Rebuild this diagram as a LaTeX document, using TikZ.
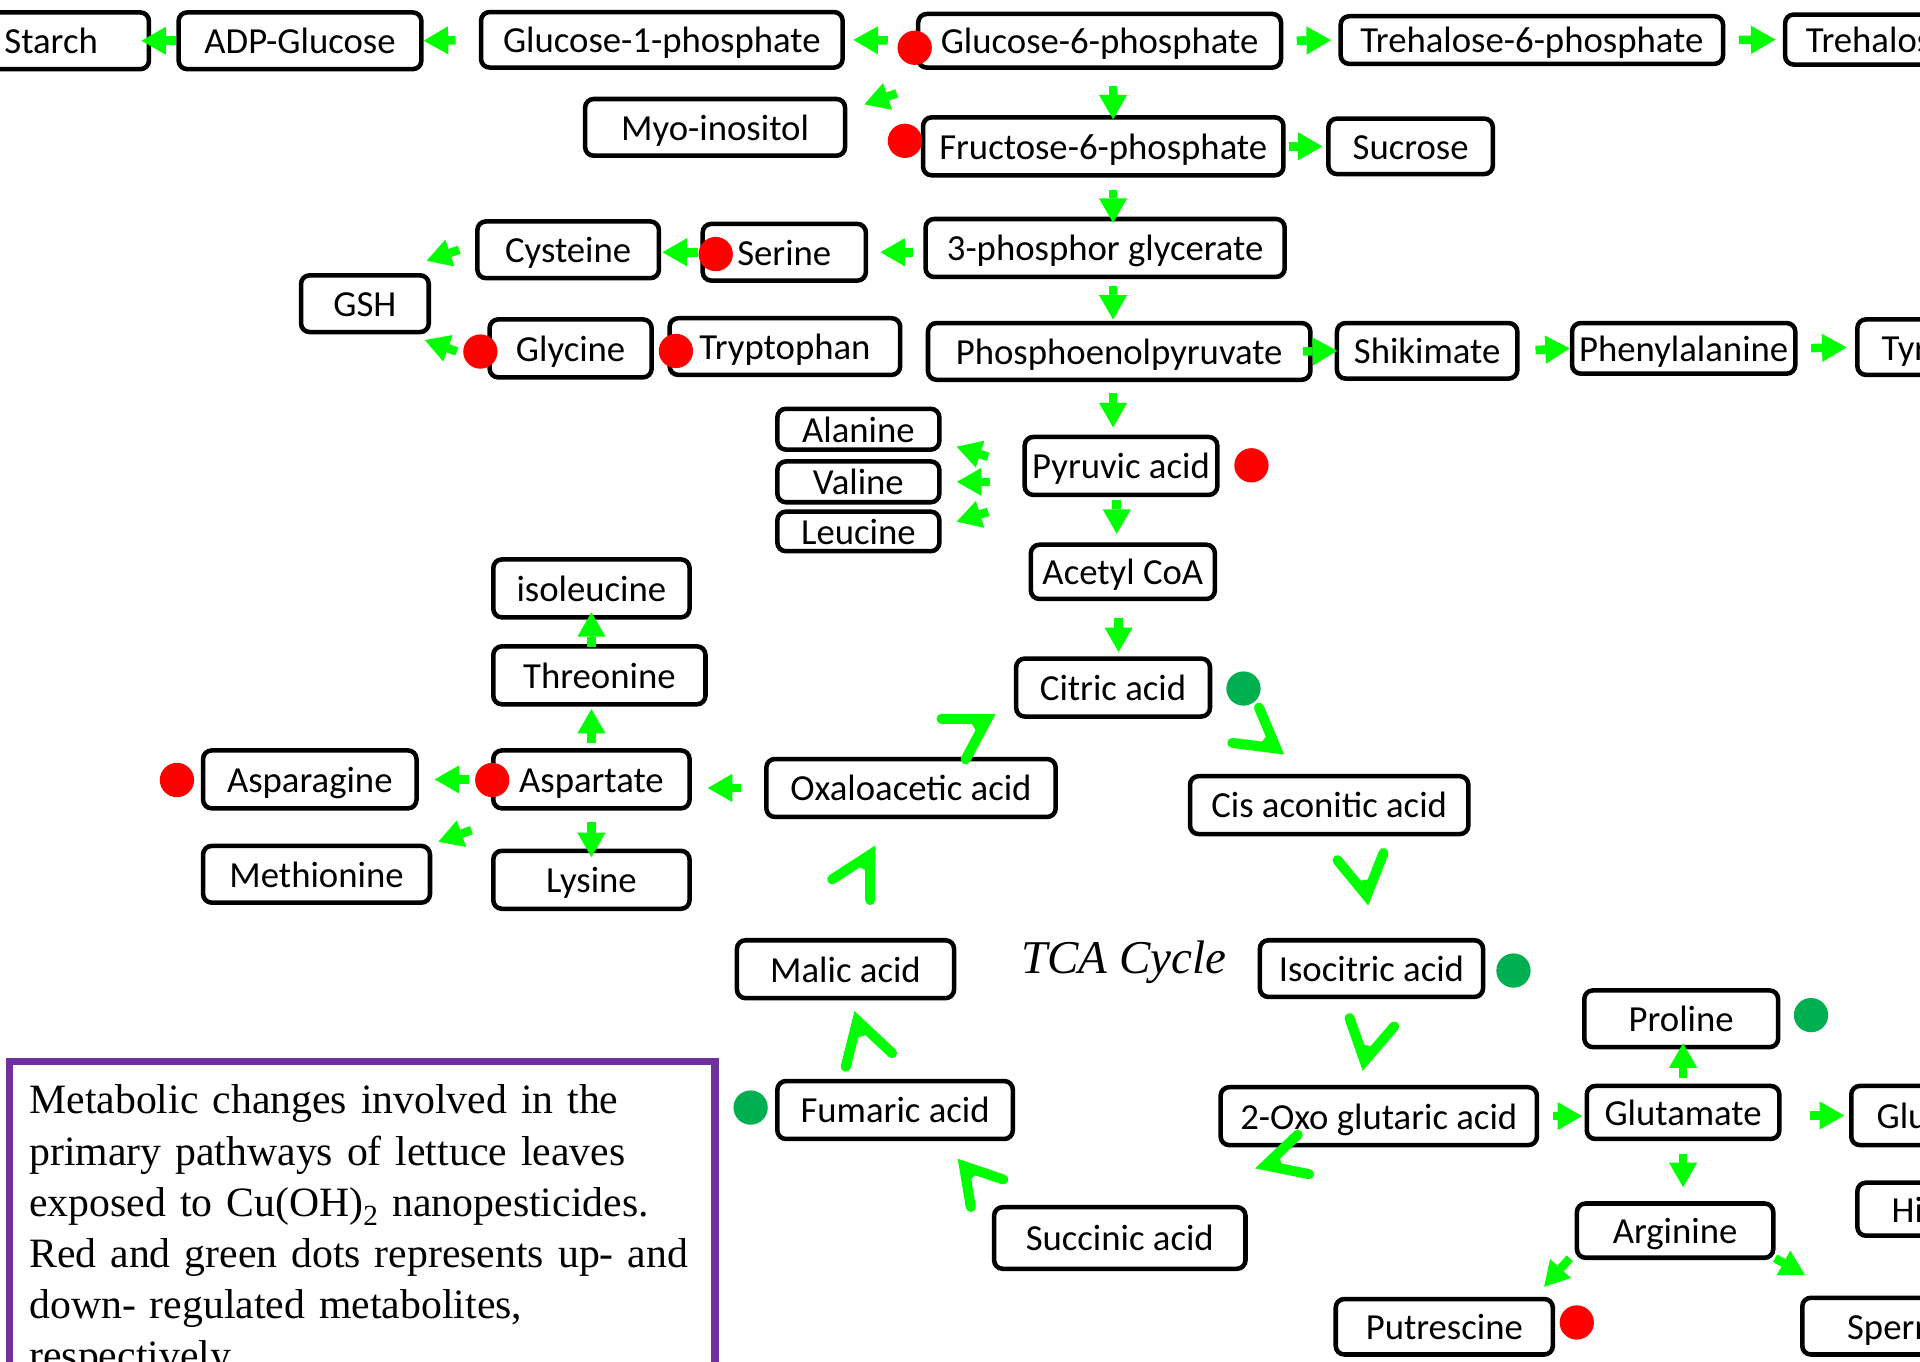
\documentclass[tikz,border=0pt]{standalone}
\usepackage{fontspec}
\setmainfont{Carlito}
\newfontfamily\capfont{Liberation Serif}
\usetikzlibrary{arrows.meta,calc}
\definecolor{flowgreen}{RGB}{0,255,0}
\definecolor{upred}{RGB}{255,0,0}
\definecolor{downgreen}{RGB}{0,176,80}
\definecolor{capviolet}{RGB}{112,48,160}
\begin{document}
\begin{tikzpicture}[
  x=1pt, y=-1pt,
  mbox/.style={draw,line width=3.7pt,rounded corners=7pt,inner sep=0pt,
    text height=21pt,text depth=0pt,font=\fontsize{30}{36}\selectfont},
  sz/.style 2 args={minimum width={#1pt-3.7pt},minimum height={#2pt-3.7pt}},
  cutoff/.style={anchor=west,align=left,text width=150pt,inner xsep=#1pt},
  flow/.style={draw=flowgreen,line width=7pt,-{Triangle[length=20pt,width=23pt,line width=0pt]}},
  tca/.style={draw=flowgreen,line width=8.2pt,line cap=round,line join=miter},
  updot/.style={circle,fill=upred,minimum size=28pt,inner sep=0pt},
  downdot/.style={circle,fill=downgreen,minimum size=28pt,inner sep=0pt},
  capbox/.style={draw=capviolet,line width=6pt,text width=544pt,align=left,
    inner xsep=16pt,inner ysep=19pt,font=\capfont\fontsize{34.1}{41.8}\selectfont},
  tcalabel/.style={inner sep=0pt,font=\capfont\itshape\fontsize{38.4}{46}\selectfont}
]
  \useasboundingbox (0,0) rectangle (1568,1112);
  \clip (0,0) rectangle (1568,1112);
  \fill[white] (0,0) rectangle (1568,1112);

  % sugars
  \node[mbox,sz={163.5}{50}] (Starch) at (41.75,33.3) {Starch};
  \node[mbox,sz={202}{50}] (ADPG) at (245,33.3) {ADP-Glucose};
  \node[mbox,sz={299}{49}] (G1P) at (540.5,32.5) {Glucose-1-phosphate};
  \node[mbox,sz={300}{47.5}] (G6P) at (898,33.3) {Glucose-6-phosphate};
  \node[mbox,sz={316}{42.6}] (T6P) at (1251,32.7) {Trehalose-6-phosphate};
  \node[mbox,cutoff=17,minimum height=40.8pt] (Treh) at (1456,32.3) {Trehalos};
  \node[mbox,sz={216}{50}] (Myo) at (584,104) {Myo-inositol};
  \node[mbox,sz={298}{51}] (F6P) at (901,119.5) {Fructose-6-phosphate};
  \node[mbox,sz={138}{49}] (Sucr) at (1152,119.5) {Sucrose};

  % glycolysis and amino acids
  \node[mbox,sz={152}{50}] (Cys) at (464,204) {Cysteine};
  \node[mbox,sz={137}{50}] (Ser) at (640.5,206) {Serine};
  \node[mbox,sz={297}{51}] (PGA) at (902.5,202.5) {3-phosphor glycerate};
  \node[mbox,sz={108}{50}] (GSH) at (298,248) {GSH};
  \node[mbox,sz={136}{51}] (Gly) at (466,284.5) {Glycine};
  \node[mbox,sz={192}{50}] (Trp) at (641,283) {Tryptophan};
  \node[mbox,sz={316}{50}] (PEP) at (914,287) {Phosphoenolpyruvate};
  \node[mbox,sz={151}{49}] (Shik) at (1165.5,286.5) {Shikimate};
  \node[mbox,sz={186}{45}] (Phe) at (1375,284.5) {Phenylalanine};
  \node[mbox,cutoff=19.7,minimum height=45.3pt] (Tyr) at (1515,283.5) {Tyr};
  \node[mbox,sz={136}{37}] (Ala) at (701,350.5) {Alanine};
  \node[mbox,sz={136}{37}] (Val) at (701,393.5) {Valine};
  \node[mbox,sz={136}{36}] (Leu) at (701,434) {Leucine};
  \node[mbox,sz={161}{51}] (Pyr) at (915.5,380.5) {Pyruvic acid};
  \node[mbox,sz={154}{48}] (AcCoA) at (917,467) {Acetyl CoA};
  \node[mbox,sz={164}{51}] (Ile) at (483,480.5) {isoleucine};
  \node[mbox,sz={177}{51}] (Thr) at (489.5,551.5) {Threonine};
  \node[mbox,sz={178}{51}] (Asn) at (253,636.5) {Asparagine};
  \node[mbox,sz={164}{51}] (Asp) at (483,636.5) {Aspartate};
  \node[mbox,sz={189}{50}] (Met) at (258.5,714) {Methionine};
  \node[mbox,sz={164}{51}] (Lys) at (483,718.5) {Lysine};

  % TCA cycle
  \node[mbox,sz={162}{51}] (Cit) at (909,561.5) {Citric acid};
  \node[mbox,sz={231}{51}] (CisAc) at (1085.5,657.5) {Cis aconitic acid};
  \node[mbox,sz={186}{50}] (Iso) at (1120,791) {Isocitric acid};
  \node[mbox,sz={262}{51}] (OxoG) at (1126,911.5) {2-Oxo glutaric acid};
  \node[mbox,sz={209}{54}] (Succ) at (914.5,1011) {Succinic acid};
  \node[mbox,sz={196}{51}] (Fum) at (731,906.5) {Fumaric acid};
  \node[mbox,sz={181}{51}] (Mal) at (690.5,791.5) {Malic acid};
  \node[mbox,sz={240}{51}] (OAA) at (744,643.5) {Oxaloacetic acid};
  \node[tcalabel,anchor=base west] (tca) at (834,795) {TCA Cycle};

  % glutamate branch
  \node[mbox,sz={162}{50}] (Pro) at (1373,832) {Proline};
  \node[mbox,sz={161}{47}] (Glu) at (1374.5,908.5) {Glutamate};
  \node[mbox,cutoff=20.7,minimum height=48.3pt] (Gln) at (1510,911) {Glu};
  \node[mbox,cutoff=28,minimum height=43.3pt] (His) at (1515,987.5) {Hi};
  \node[mbox,sz={164}{48}] (Arg) at (1368,1005) {Arginine};
  \node[mbox,sz={181}{49}] (Put) at (1179.5,1083.5) {Putrescine};
  \node[mbox,cutoff=36.6,minimum height=46.3pt] (Spm) at (1470,1083) {Sperm};

  % straight steps
  \draw[flow,shorten >=-8pt] (ADPG.west) -- (Starch.east);
  \draw[flow,shorten <=19pt] (G1P.west) -- (ADPG.east);
  \draw[flow,shorten <=23pt,shorten >=7pt] (G6P.west) -- (G1P.east);
  \draw[flow,shorten <=11pt,shorten >=6pt] (G6P.east) -- (T6P.west);
  \draw[flow,shorten <=11pt,shorten >=6pt] (T6P.east) -- (Treh.west);
  \draw[flow,shorten <=3pt,shorten >=3pt] (F6P.east) -- (Sucr.west);
  \draw[flow,shorten <=8pt,shorten >=10pt] (Ser.east -| PGA.west) -- (Ser.east);
  \draw[flow,shorten <=2pt,shorten >=1pt] (Ser.west) -- (Ser.west -| Cys.east);
  \draw[flow,shorten <=-8pt,shorten >=-2pt] (PEP.east) -- (Shik.west);
  \draw[flow,shorten <=13pt] (Shik.east) -- (Phe.west);
  \draw[flow,shorten <=11pt,shorten >=7pt] (Phe.east) -- (Tyr.west);
  \draw[flow,shorten <=26.5pt,shorten >=12.5pt] (Val.east -| Pyr.west) -- (Val.east);
  \draw[flow,shorten <=19pt,shorten >=13pt] (OAA.west) -- (OAA.west -| Asp.east);
  \draw[flow,shorten <=18pt,shorten >=13pt] (Asp.west) -- (Asn.east);
  \draw[flow,shorten <=11pt,shorten >=2pt] (OxoG.east) -- (OxoG.east -| Glu.west);
  \draw[flow,shorten <=23pt,shorten >=4pt] (Gln.west -| Glu.east) -- (Gln.west);

  \draw[flow,shorten <=13pt,shorten >=-3.5pt] ([xshift=11pt]G6P.south) -- ([xshift=8pt]F6P.north);
  \draw[flow,shorten <=10pt,shorten >=-5pt] ([xshift=8pt]F6P.south) -- ([xshift=6.5pt]PGA.north);
  \draw[flow,shorten <=5.5pt,shorten >=1pt] ([xshift=6.5pt]PGA.south) -- ([xshift=-5pt]PEP.north);
  \draw[flow,shorten <=9pt,shorten >=6pt] ([xshift=-5pt]PEP.south) -- ([xshift=-6.5pt]Pyr.north);
  \draw[flow,shorten <=2pt,shorten >=7pt] ([xshift=-3.5pt]Pyr.south) -- ([xshift=-5pt]AcCoA.north);
  \draw[flow,shorten <=13.5pt,shorten >=3.5pt] ([xshift=-3.5pt]AcCoA.south) -- ([xshift=4.5pt]Cit.north);
  \draw[flow,shorten <=4pt,shorten >=2pt] (Asp.north) -- (Asp.north |- Thr.south);
  \draw[flow,shorten <=-2pt,shorten >=-6pt] (Ile.south |- Thr.north) -- (Ile.south);
  \draw[flow,shorten <=9pt,shorten >=-7pt] (Asp.south) -- (Lys.north);
  \draw[flow,shorten <=5pt,shorten >=-5pt] (Glu.north) -- (Glu.north |- Pro.south);
  \draw[flow,shorten <=10.5pt,shorten >=11.5pt] (Glu.south) -- (Glu.south |- Arg.north);

  % slanted steps
  \draw[flow] ([shift={(-15.7,19.2)}]G6P.south west) -- ([shift={(13.9,-18.8)}]Myo.east);
  \draw[flow] ([shift={(-13,0)}]Cys.west) -- ([shift={(-3.6,-10)}]GSH.north east);
  \draw[flow] ([shift={(-25,2.5)}]Gly.west) -- ([shift={(-5,4.7)}]GSH.south east);
  \draw[flow] ([shift={(-28,-7.5)}]Pyr.west) -- ([shift={(12.3,14.3)}]Ala.east);
  \draw[flow] ([shift={(-28,12)}]Pyr.south west) -- ([shift={(12.3,-8)}]Leu.east);
  \draw[flow] ([shift={(-16,16)}]Asp.south west) -- ([shift={(5,-1.6)}]Met.north east);
  \draw[flow] ([shift={(-4,-1.4)}]Arg.south west) -- ([shift={(-9,-8.2)}]Put.north east);
  \draw[flow] ([shift={(-0.4,-1.4)}]Arg.south east) -- ([shift={(4,-17)}]Spm.north west);

  % cycle chevrons
  \foreach \from/\sx/\sy/\to/\tx/\ty/\ang in {
    Cit.east/38.2/16.4/CisAc.north/-43.3/-20.8/60,
    CisAc.south/44.4/13.6/Iso.north/-3.9/-34.5/61,
    Iso.south/-17.9/15.4/OxoG.north/-11.6/-19.6/-60,
    OxoG.south west/64.8/-10.3/Succ.north east/14.5/-32.3/-55,
    Succ.north west/-17.2/1.7/Fum.south east/-41.7/20.4/62,
    Fum.north west/57.7/-9.8/Mal.south/9.6/16.5/61,
    Mal.north/20.1/-31/OAA.south/-33.3/29/-57,
    OAA.north/44.6/2.1/Cit.south west/-21.8/0.2/-62} {
    \path ([shift={(\sx,\sy)}]\from) coordinate (s) ([shift={(\tx,\ty)}]\to) coordinate (t);
    \draw[tca] (s) -- (t) -- ($(t)!1!\ang:(s)$);
    \fill[flowgreen] (t) -- ($(t)!0.4!(s)$) -- ($(t)!0.4!\ang:(s)$) -- cycle;
  }

  % up and down regulated
  \node[updot] (dG6P) at ([shift={(-1,5.7)}]G6P.west) {};
  \node[updot] (dF6P) at ([shift={(-13,-4.5)}]F6P.west) {};
  \node[updot] (dSer) at ([shift={(12.5,1.5)}]Ser.west) {};
  \node[updot] (dGly) at ([shift={(-5.7,2.6)}]Gly.west) {};
  \node[updot] (dTrp) at ([shift={(7,3.6)}]Trp.west) {};
  \node[updot] (dPyr) at ([shift={(26,-0.5)}]Pyr.east) {};
  \node[updot] (dAsn) at ([shift={(-19.5,0.5)}]Asn.west) {};
  \node[updot] (dAsp) at ([shift={(1,0.5)}]Asp.west) {};
  \node[updot] (dPut) at ([shift={(17.7,-3.5)}]Put.east) {};
  \node[downdot] (dCit) at ([shift={(25.5,0.8)}]Cit.east) {};
  \node[downdot] (dIso) at ([shift={(23,1.6)}]Iso.east) {};
  \node[downdot] (dPro) at ([shift={(25,-3)}]Pro.east) {};
  \node[downdot] (dFum) at ([shift={(-20,-2)}]Fum.west) {};

  \node[capbox,anchor=north west] (caption) at (5,864)
    {Metabolic changes involved in the\\
     primary pathways of lettuce leaves\\
     exposed to Cu(OH)\textsubscript{2} nanopesticides.\\
     Red and green dots represents up-\mbox{ }and\\
     down- regulated metabolites,\\
     respectively.};
\end{tikzpicture}
\end{document}
